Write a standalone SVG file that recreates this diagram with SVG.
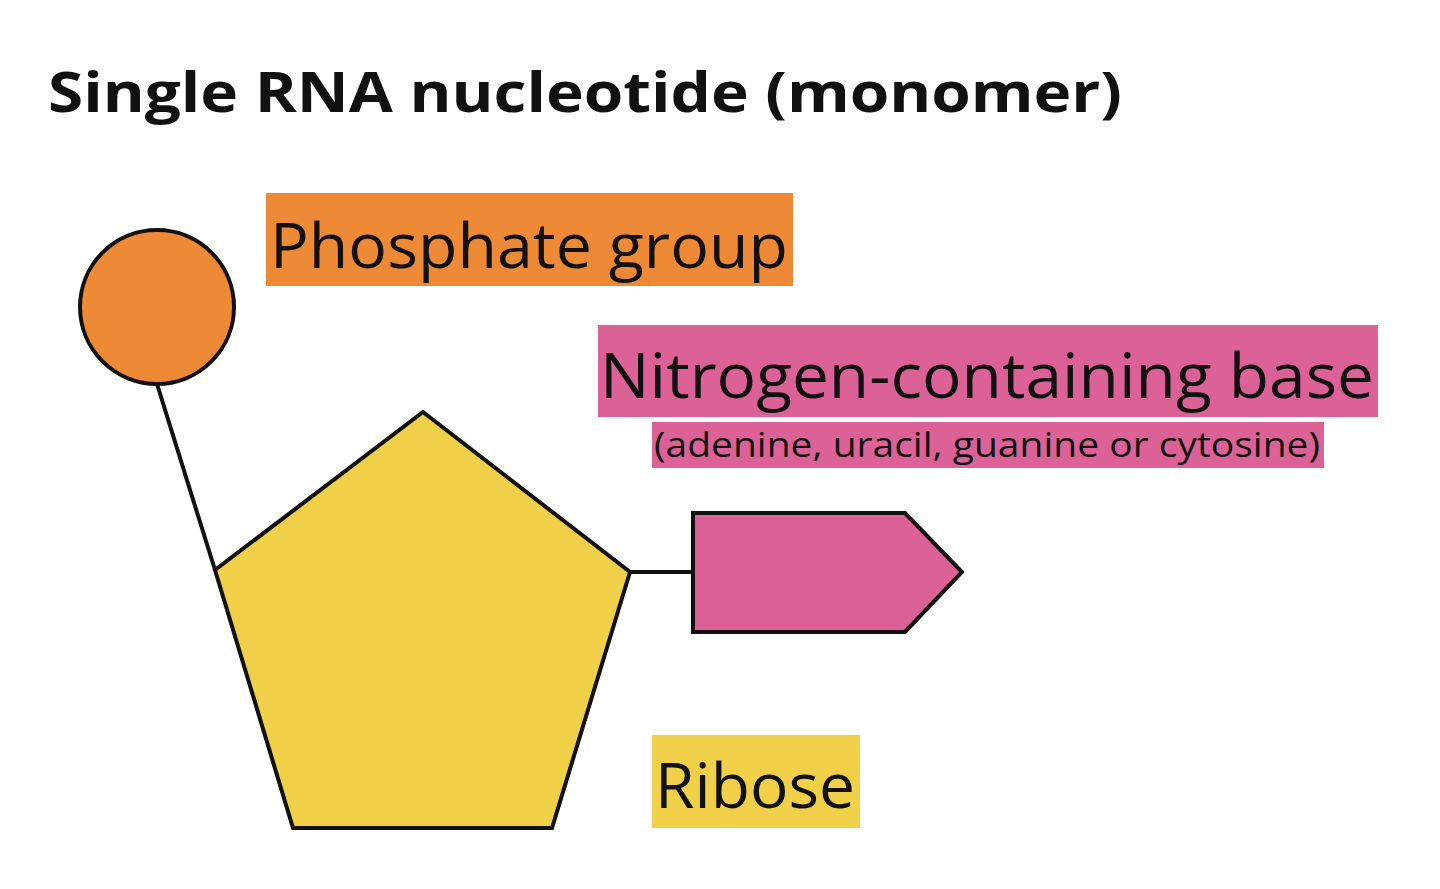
<svg xmlns="http://www.w3.org/2000/svg" width="1440" height="889" viewBox="0 0 1440 889">
<style>
.t{font-family:"Open Sans","Liberation Sans",sans-serif;fill:#111}
.s{stroke:#111;stroke-width:4;stroke-linejoin:miter}
</style>
<rect width="1440" height="889" fill="#fff"/>
<text class="t" x="48" y="112" font-size="56" font-weight="bold" textLength="1074" lengthAdjust="spacingAndGlyphs">Single RNA nucleotide (monomer)</text>
<g id="connectors">
<line class="s" x1="157" y1="384" x2="215" y2="570"/>
<line class="s" x1="630" y1="572" x2="693" y2="572"/>
</g>
<g id="phosphate"><circle class="s" cx="157" cy="307" r="77" fill="#EE8A35"/></g>
<g id="ribose"><polygon class="s" points="423,412 630,572 552,828 293,828 215,570" fill="#F0D048"/></g>
<g id="base"><polygon class="s" points="693,513 905,513 962,572 905,632 693,632" fill="#DC6196"/></g>
<g id="phosphate-label">
<rect x="266" y="193" width="527" height="93" fill="#EE8A35"/>
<text class="t" x="270" y="268" font-size="62" textLength="518" lengthAdjust="spacingAndGlyphs">Phosphate group</text>
</g>
<g id="base-label">
<rect x="598" y="325" width="780" height="92" fill="#DC6196"/>
<text class="t" x="600" y="398" font-size="62" textLength="774" lengthAdjust="spacingAndGlyphs">Nitrogen-containing base</text>
<rect x="652" y="422" width="672" height="46" fill="#DC6196"/>
<text class="t" x="654" y="457" font-size="34" textLength="666" lengthAdjust="spacingAndGlyphs">(adenine, uracil, guanine or cytosine)</text>
</g>
<g id="ribose-label">
<rect x="652" y="735" width="208" height="93" fill="#F0D048"/>
<text class="t" x="655" y="808" font-size="62" textLength="200" lengthAdjust="spacingAndGlyphs">Ribose</text>
</g>
</svg>
